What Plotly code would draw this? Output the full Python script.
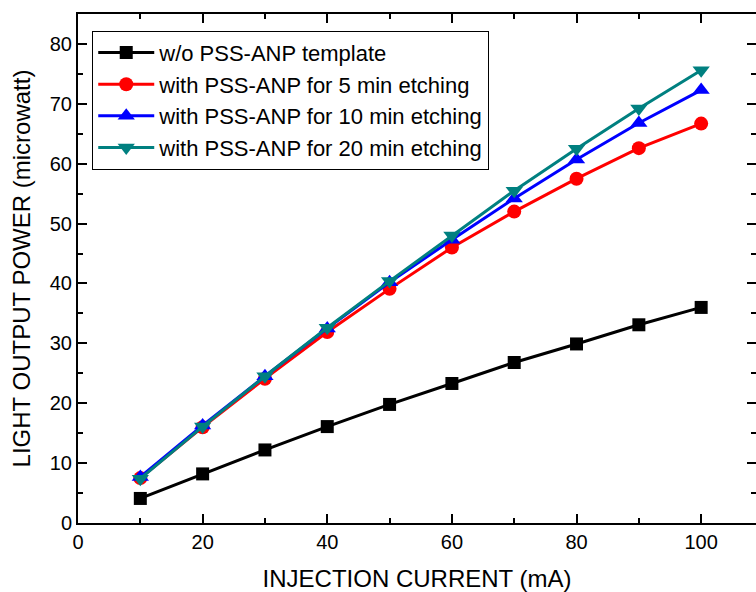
import plotly.graph_objects as go

# injection current (mA)
current = [10, 20, 30, 40, 50, 60, 70, 80, 90, 100]

# light output power (microwatt)
no_pss = [4.1, 8.2, 12.2, 16.1, 19.8, 23.3, 26.8, 29.9, 33.1, 36.0]
etch_5 = [7.5, 16.0, 24.1, 31.9, 39.1, 46.0, 52.0, 57.5, 62.6, 66.7]
etch_10 = [7.7, 16.3, 24.5, 32.5, 40.2, 47.3, 54.2, 60.7, 66.8, 72.3]
etch_20 = [7.4, 16.1, 24.5, 32.6, 40.4, 48.0, 55.5, 62.5, 69.2, 75.6]

series = [
    ("w/o PSS-ANP template", no_pss, "#000000", "square", 13),
    ("with PSS-ANP for 5 min etching", etch_5, "#ff0000", "circle", 14),
    ("with PSS-ANP for 10 min etching", etch_10, "#0000ff", "triangle-up", 15),
    ("with PSS-ANP for 20 min etching", etch_20, "#008080", "triangle-down", 15),
]

fig = go.Figure()
for name, values, color, symbol, size in series:
    fig.add_trace(go.Scatter(
        x=current, y=values, name=name, mode="lines+markers",
        line=dict(color=color, width=3),
        marker=dict(symbol=symbol, size=size, color=color),
    ))

font = "Liberation Sans, Arial, Helvetica, sans-serif"

axis_style = dict(
    showline=True, linecolor="black", linewidth=2, mirror="ticks",
    ticks="inside", ticklen=9, tickwidth=2, tickcolor="black",
    showgrid=False, zeroline=False, automargin=False,
    tickfont=dict(family=font, size=20, color="black"),
)

fig.update_xaxes(
    range=[0, 108.8], dtick=20,
    minor=dict(ticks="inside", ticklen=5, tickwidth=2, dtick=10, tickcolor="black"),
    title=dict(text="INJECTION CURRENT (mA)", font=dict(family=font, size=24, color="black"), standoff=18),
    **axis_style,
)
fig.update_yaxes(
    range=[0, 85], dtick=10,
    minor=dict(ticks="inside", ticklen=5, tickwidth=2, dtick=5, tickcolor="black"),
    title=dict(text="LIGHT OUTPUT POWER (microwatt)", font=dict(family=font, size=24, color="black"), standoff=12),
    **axis_style,
)

fig.update_layout(
    width=756, height=592,
    margin=dict(l=78, r=0, t=14, b=69),
    paper_bgcolor="white", plot_bgcolor="white",
    font=dict(family=font, color="black"),
    legend=dict(
        x=0.021, y=0.967, xanchor="left", yanchor="top",
        bgcolor="white", bordercolor="black", borderwidth=1,
        font=dict(family=font, size=22, color="black"),
        tracegroupgap=0, itemwidth=56,
    ),
    showlegend=True,
)

# drop the default page margin so the figure sits at the window's corner
fig.write_html(
    "out.html",
    config={"displayModeBar": False},
    post_script="document.body.style.margin='0';document.body.style.overflow='hidden';",
)
